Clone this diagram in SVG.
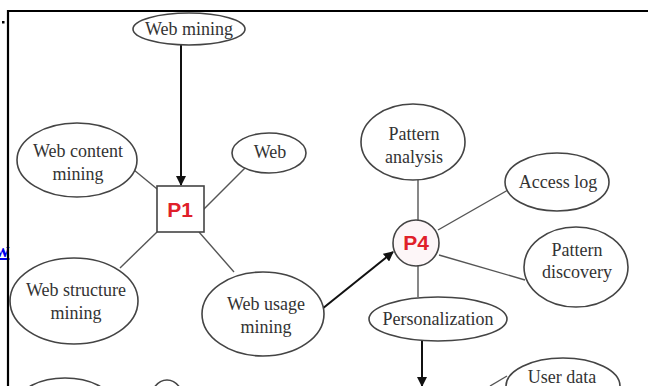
<svg xmlns="http://www.w3.org/2000/svg" width="648" height="386" viewBox="0 0 648 386">
<style>
.bg{fill:#fff}
.el{fill:#fff;stroke:#444;stroke-width:1.6}
.t{font-family:"Liberation Serif",serif;font-size:18px;fill:#333;text-anchor:middle}
.p{font-family:"Liberation Sans",Arial,sans-serif;font-weight:bold;font-size:21px;fill:#e0202a;text-anchor:middle}
.ln{stroke:#555;stroke-width:1.4;fill:none}
.ar{stroke:#111;stroke-width:2;fill:none;marker-end:url(#ah)}
</style>
<defs>
<marker id="ah" viewBox="0 0 10 10" refX="9" refY="5" markerWidth="5" markerHeight="5" orient="auto" markerUnits="strokeWidth">
<path d="M0,0 L10,5 L0,10 z" fill="#111"/>
</marker>
</defs>
<rect class="bg" x="0" y="0" width="648" height="386"/>
<rect x="2" y="21" width="2.5" height="2.5" fill="#000"/>
<text x="-5" y="257" font-family="Liberation Serif,serif" font-size="20" font-weight="bold" fill="#0000ee" text-decoration="underline">w</text>
<path d="M8,386 V11 H648" fill="none" stroke="#000" stroke-width="2.2"/>

<g id="connectors">
<line class="ar" x1="181" y1="45" x2="181" y2="185"/>
<line class="ln" x1="134" y1="170" x2="162" y2="193"/>
<line class="ln" x1="245" y1="168" x2="203" y2="210"/>
<line class="ln" x1="157" y1="232" x2="120" y2="268"/>
<line class="ln" x1="199" y1="232" x2="234" y2="272"/>
<line class="ar" x1="322" y1="309" x2="393" y2="252"/>
<line class="ln" x1="418" y1="180" x2="418" y2="220"/>
<line class="ln" x1="508" y1="190" x2="438" y2="230"/>
<line class="ln" x1="439" y1="255" x2="525" y2="280"/>
<line class="ln" x1="418" y1="266" x2="418" y2="297"/>
<line class="ar" x1="422" y1="341" x2="422" y2="386"/>
<line class="ln" x1="507" y1="376" x2="490" y2="386"/>
</g>

<g id="web-mining">
<ellipse class="el" cx="189" cy="29" rx="56" ry="16"/>
<text class="t" x="189" y="35">Web mining</text>
</g>
<g id="web-content-mining">
<ellipse class="el" cx="77" cy="160" rx="60" ry="37"/>
<text class="t" x="78" y="157">Web content</text>
<text class="t" x="78" y="180">mining</text>
</g>
<g id="web">
<ellipse class="el" cx="269" cy="153" rx="37" ry="20"/>
<text class="t" x="270" y="158">Web</text>
</g>
<g id="p1">
<rect x="157" y="186" width="47" height="46" fill="#fff" stroke="#444" stroke-width="1.6"/>
<text class="p" x="180" y="217">P1</text>
</g>
<g id="web-structure-mining">
<ellipse class="el" cx="74" cy="301" rx="64" ry="43"/>
<text class="t" x="76" y="296">Web structure</text>
<text class="t" x="76" y="319">mining</text>
</g>
<g id="web-usage-mining">
<ellipse class="el" cx="263" cy="314" rx="61" ry="42"/>
<text class="t" x="266" y="310">Web usage</text>
<text class="t" x="266" y="333">mining</text>
</g>
<g id="pattern-analysis">
<ellipse class="el" cx="413" cy="142" rx="52" ry="38"/>
<text class="t" x="414" y="140">Pattern</text>
<text class="t" x="414" y="163">analysis</text>
</g>
<g id="access-log">
<ellipse class="el" cx="557" cy="182" rx="52" ry="29"/>
<text class="t" x="558" y="188">Access log</text>
</g>
<g id="p4">
<circle cx="416" cy="243" r="23" fill="#fdf6f8" stroke="#444" stroke-width="1.6"/>
<text class="p" x="416" y="250">P4</text>
</g>
<g id="pattern-discovery">
<ellipse class="el" cx="576" cy="267" rx="52" ry="40"/>
<text class="t" x="577" y="256">Pattern</text>
<text class="t" x="577" y="278">discovery</text>
</g>
<g id="personalization">
<ellipse class="el" cx="438" cy="319" rx="69" ry="22"/>
<text class="t" x="438" y="325">Personalization</text>
</g>
<g id="user-data">
<ellipse class="el" cx="563" cy="386" rx="57" ry="28"/>
<text class="t" x="562" y="383">User data</text>
</g>
<g id="bottom-left-1">
<ellipse class="el" cx="65" cy="402" rx="46" ry="24"/>
</g>
<g id="bottom-left-2">
<ellipse class="el" cx="167" cy="402" rx="17" ry="22"/>
</g>
</svg>
